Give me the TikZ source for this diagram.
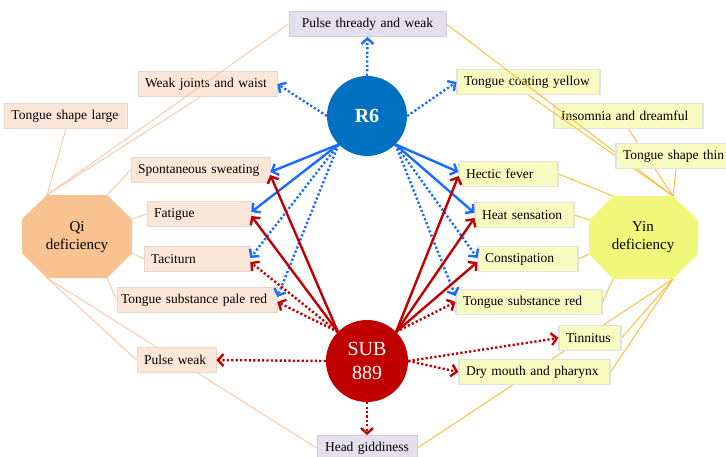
\documentclass[tikz,border=0pt]{standalone}
\usepackage{fontspec}
\setmainfont{Liberation Serif}
\usetikzlibrary{arrows.meta}
\pgfdeclarelayer{bg}
\pgfdeclarelayer{mid}
\pgfsetlayers{bg,mid,main}
\definecolor{qifill}{HTML}{F8C291}
\definecolor{yinfill}{HTML}{F1F77B}
\definecolor{qiline}{HTML}{F6C6A4}
\definecolor{yinline}{HTML}{F9BE2E}
\definecolor{peach}{HTML}{FCE6D8}
\definecolor{peachb}{HTML}{EAD6CA}
\definecolor{lyel}{HTML}{F8FBC0}
\definecolor{lyelb}{HTML}{E2E2E2}
\definecolor{lav}{HTML}{E4DFEC}
\definecolor{lavb}{HTML}{D2CDDA}
\definecolor{rblue}{HTML}{0070C0}
\definecolor{ablue}{HTML}{1A6BFF}
\definecolor{ared}{HTML}{C00000}
\begin{document}
\begin{tikzpicture}[x=1pt,y=-1pt,
  bx/.style={rectangle, minimum height=25pt, inner xsep=7pt, inner ysep=0pt,
    text width=#1, font=\fontsize{13.5}{16}\selectfont, line width=0.7pt},
  lb/.style={bx=#1, align=left, fill=peach, draw=peachb},
  rb/.style={bx=#1, align=left, fill=lyel, draw=lyelb, line width=1.2pt},
  vb/.style={bx=#1, align=center, fill=lav, draw=lavb},
  qil/.style={draw=qiline, line width=0.9pt},
  yinl/.style={draw=yinline, line width=0.9pt},
  ctext/.style={font=\fontsize{15}{18}\selectfont, align=center},
  circ/.style={circle, inner sep=0pt, text=white, align=center},
  arr/.style={line width=2.4pt, -{Straight Barb[length=5.5pt,width=12pt]}},
  bsol/.style={arr, draw=ablue},
  bdot/.style={bsol, dash pattern=on 2.2pt off 2.2pt},
  rsol/.style={arr, draw=ared},
  rdot/.style={rsol, dash pattern=on 2.2pt off 2.2pt}]
\useasboundingbox (0,0) rectangle (726,456);

% octagon vertices
\coordinate (qa) at (47,195);  \coordinate (qb) at (107,195);
\coordinate (qc) at (132,219); \coordinate (qd) at (132,253);
\coordinate (qe) at (107,278); \coordinate (qf) at (47,278);
\coordinate (qg) at (22,253);  \coordinate (qh) at (22,219);
\coordinate (ya) at (613,196); \coordinate (yb) at (673,196);
\coordinate (yc) at (698,220); \coordinate (yd) at (698,254);
\coordinate (ye) at (673,279); \coordinate (yf) at (613,279);
\coordinate (yg) at (589,254); \coordinate (yh) at (589,220);

% boxes that lie under some lines
\begin{pgfonlayer}{bg}
\node[lb=125] (wj) at (207.5,84) {Weak joints and waist};
\node[rb=129] (coat) at (528.5,82) {Tongue coating yellow};
\node[rb=135] (ins) at (628.5,116) {Insomnia and dreamful};
\end{pgfonlayer}

% other boxes
\node[vb=143] (pth) at (367.5,24) {Pulse thready and weak};
\node[lb=109] (tsl) at (66,116) {Tongue shape large};
\node[lb=125] (spont) at (200.5,170) {Spontaneous sweating};
\node[lb=90] (fat) at (199,214) {Fatigue};
\node[lb=92] (tac) at (197,259) {Taciturn};
\node[lb=152, inner xsep=4pt] (pale) at (197,300) {Tongue substance pale red};
\node[lb=65] (pw) at (176.5,360) {Pulse weak};
\node[vb=86] (head) at (367,448) {Head giddiness};
\node[rb=116] (thin) at (681,156) {Tongue shape thin};
\node[rb=85] (hect) at (508.5,174) {Hectic fever};
\node[rb=85] (heat) at (524.5,215) {Heat sensation};
\node[rb=86] (cons) at (528,259) {Constipation};
\node[rb=132] (tred) at (529,302) {Tongue substance red};
\node[rb=48] (tinn) at (590,338) {Tinnitus};
\node[rb=137] (dry) at (534.5,372) {Dry mouth and pharynx};

% octagons
\fill[qifill] (qa)--(qb)--(qc)--(qd)--(qe)--(qf)--(qg)--(qh)--cycle;
\node[ctext] (qi) at (77,237) {Qi\\deficiency};
\fill[yinfill] (ya)--(yb)--(yc)--(yd)--(ye)--(yf)--(yg)--(yh)--cycle;
\node[ctext] (yin) at (643,237) {Yin\\deficiency};

% circles
\node[circ, fill=rblue, minimum size=80pt, font=\fontsize{20}{24}\selectfont\bfseries] (r6) at (367,116) {R6};
\node[circ, fill=ared, minimum size=82pt, font=\fontsize{20}{24}\selectfont] (sub) at (367,361) {SUB\\889};

% thin connector lines
\begin{pgfonlayer}{mid}
\draw[qil] (qa) -- (tsl.south);
\draw[qil] (qa) -- ([xshift=-7pt]wj.south);
\draw[qil] (qa) -- (pth.west);
\draw[qil] (qb) -- (spont.west);
\draw[qil] (qc) -- (fat.west);
\draw[qil] (qd) -- (tac.west);
\draw[qil] (qe) -- (pale.west);
\draw[qil] (qf) -- (pw.west);
\draw[qil] (qf) -- (head.west);
\draw[yinl] (yb) -- (pth.east);
\draw[yinl] (yb) -- (coat.south);
\draw[yinl] (yb) -- (ins.south);
\draw[yinl] (yb) -- ([xshift=-5pt]thin.south);
\draw[yinl] (ya) -- (hect.east);
\draw[yinl] (yh) -- (heat.east);
\draw[yinl] (yg) -- (cons.east);
\draw[yinl] (yf) -- (tred.east);
\draw[yinl] (ye) -- (tinn.east);
\draw[yinl] (ye) -- (dry.east);
\draw[yinl] (ye) -- (head.east);
\end{pgfonlayer}

% R6 arrows
\draw[bdot] (r6.north) -- (pth.south);
\draw[bdot] (r6.west) -- (wj.east);
\draw[bdot] (r6.east) -- (coat.west);
\draw[bsol] (r6.225) -- ([yshift=-2pt]spont.east);
\draw[bsol] (r6.225) -- ([yshift=2pt]fat.east);
\draw[bdot] (r6.225) -- ([yshift=1pt]tac.east);
\draw[bdot] (r6.225) -- ([yshift=3pt]pale.east);
\draw[bsol] (r6.-45) -- ([yshift=2pt]hect.west);
\draw[bsol] (r6.-45) -- ([yshift=2pt]heat.west);
\draw[bdot] (r6.-45) -- ([yshift=1pt]cons.west);
\draw[bdot] (r6.-45) -- ([yshift=6pt]tred.west);

% SUB 889 arrows
\draw[rsol] (sub.135) -- ([yshift=-5pt]spont.east);
\draw[rsol] (sub.135) -- ([yshift=-2pt]fat.east);
\draw[rdot] (sub.135) -- ([yshift=-3pt]tac.east);
\draw[rdot] (sub.135) -- ([yshift=-2pt]pale.east);
\draw[rdot] (sub.west) -- (pw.east);
\draw[rdot] (sub.south) -- (head.north);
\draw[rsol] (sub.45) -- ([yshift=-2pt]hect.west);
\draw[rsol] (sub.45) -- ([yshift=-3pt]heat.west);
\draw[rsol] (sub.45) -- ([yshift=-3pt]cons.west);
\draw[rdot] (sub.45) -- (tred.west);
\draw[rdot] (sub.east) -- (tinn.west);
\draw[rdot] (sub.east) -- (dry.west);
\end{tikzpicture}
\end{document}
